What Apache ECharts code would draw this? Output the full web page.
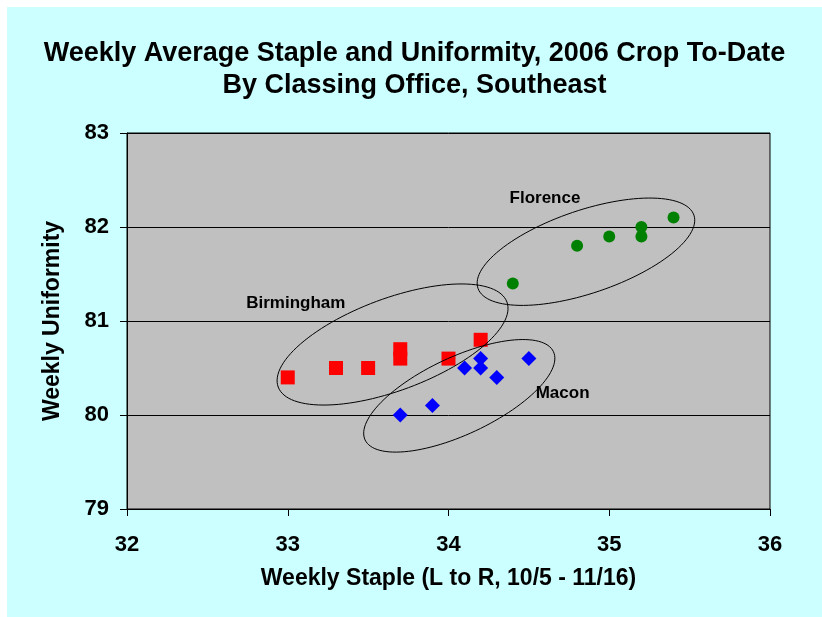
<!DOCTYPE html>
<html>
<head>
<meta charset="utf-8">
<script src="https://cdn.jsdelivr.net/npm/echarts@6/dist/echarts.min.js"></script>
<style>
    html, body { margin: 0; padding: 0; background: #ffffff; }
    #chart { position: absolute; left: 7px; top: 7px; width: 815px; height: 610px; background: #ccffff; }
</style>
</head>
<body>
<div id="chart"></div>
<script>
    // weekly staple (x) and uniformity (y), L to R = 10/5 .. 11/16
    const birminghamStaple = [33.0, 33.3, 33.5, 33.7, 33.7, 34.0, 34.2];
    const birminghamUnif = [80.4, 80.5, 80.5, 80.7, 80.6, 80.6, 80.8];
    const maconStaple = [33.7, 33.9, 34.1, 34.2, 34.2, 34.3, 34.5];
    const maconUnif = [80.0, 80.1, 80.5, 80.6, 80.5, 80.4, 80.6];
    const florenceStaple = [34.4, 34.8, 35.0, 35.2, 35.2, 35.4];
    const florenceUnif = [81.4, 81.8, 81.9, 82.0, 81.9, 82.1];

    // office labels and the ellipse centres drawn round each group
    const officeNames = ['Florence', 'Birmingham', 'Macon'];
    const labelStaple = [34.60, 33.05, 34.71];
    const labelUnif = [82.30, 81.19, 80.23];
    const ringStaple = [34.855, 33.652, 34.067];
    const ringUnif = [81.737, 80.75, 80.204];

    // ring shape in pixels: semi-major, semi-minor, tilt in degrees
    const ringShape = [
        {a: 114, b: 41.5, tilt: 18.7},
        {a: 122, b: 46, tilt: 20.4},
        {a: 104, b: 38.6, tilt: 25.1}
    ];

    const font = 'Liberation Sans, Arial, sans-serif';
    const pairs = (xs, ys) => xs.map((x, i) => [x, ys[i]]);

    const myChart = echarts.init(document.getElementById('chart'));
    const option = {
        backgroundColor: 'transparent',
        animation: false,
        title: {
            text: 'Weekly Average Staple and Uniformity, 2006 Crop To-Date\nBy Classing Office, Southeast',
            left: 'center',
            top: 26,
            textStyle: {
                fontFamily: font,
                fontSize: 27,
                fontWeight: 'bold',
                lineHeight: 32,
                color: '#000'
            }
        },
        grid: {
            left: 120,
            right: 52,
            top: 126,
            bottom: 108,
            show: true,
            backgroundColor: '#c0c0c0',
            borderColor: '#000',
            borderWidth: 1
        },
        xAxis: {
            type: 'value',
            min: 32,
            max: 36,
            interval: 1,
            name: 'Weekly Staple (L to R, 10/5 - 11/16)',
            nameLocation: 'middle',
            nameGap: 58,
            nameTextStyle: {fontFamily: font, fontSize: 23, fontWeight: 'bold', color: '#000'},
            axisLine: {lineStyle: {color: '#000', width: 1}},
            axisTick: {show: true, inside: false, length: 7, lineStyle: {color: '#000'}},
            axisLabel: {margin: 25, fontFamily: font, fontSize: 22, fontWeight: 'bold', color: '#000'},
            splitLine: {show: false}
        },
        yAxis: {
            type: 'value',
            min: 79,
            max: 83,
            interval: 1,
            name: 'Weekly Uniformity',
            nameLocation: 'middle',
            nameGap: 63,
            nameRotate: 90,
            nameTextStyle: {fontFamily: font, fontSize: 23, fontWeight: 'bold', color: '#000'},
            axisLine: {show: true, lineStyle: {color: '#000', width: 1}},
            axisTick: {show: true, inside: false, length: 7, lineStyle: {color: '#000'}},
            axisLabel: {margin: 18, fontFamily: font, fontSize: 22, fontWeight: 'bold', color: '#000'},
            splitLine: {show: true, lineStyle: {color: '#000', width: 1}}
        },
        series: [
            {
                name: 'Birmingham',
                type: 'scatter',
                symbol: 'rect',
                symbolSize: 14,
                itemStyle: {color: '#ff0000', opacity: 1},
                data: pairs(birminghamStaple, birminghamUnif)
            },
            {
                name: 'Macon',
                type: 'scatter',
                symbol: 'diamond',
                symbolSize: 15,
                itemStyle: {color: '#0000ff', opacity: 1},
                data: pairs(maconStaple, maconUnif)
            },
            {
                name: 'Florence',
                type: 'scatter',
                symbol: 'circle',
                symbolSize: 12,
                itemStyle: {color: '#008000', opacity: 1},
                data: pairs(florenceStaple, florenceUnif)
            },
            {
                name: 'rings',
                type: 'custom',
                silent: true,
                clip: false,
                z: 3,
                data: pairs(ringStaple, ringUnif),
                renderItem: function (params, api) {
                    const c = api.coord([api.value(0), api.value(1)]);
                    const s = ringShape[params.dataIndex];
                    const th = s.tilt * Math.PI / 180;
                    const pts = [];
                    for (let i = 0; i < 120; i++) {
                        const t = i / 120 * Math.PI * 2;
                        const u = s.a * Math.cos(t), v = s.b * Math.sin(t);
                        pts.push([c[0] + u * Math.cos(th) + v * Math.sin(th),
                                  c[1] - u * Math.sin(th) + v * Math.cos(th)]);
                    }
                    return {
                        type: 'polygon',
                        shape: {points: pts},
                        style: {fill: 'none', stroke: '#000', lineWidth: 1}
                    };
                }
            },
            {
                name: 'labels',
                type: 'scatter',
                symbolSize: 0,
                silent: true,
                itemStyle: {opacity: 1},
                data: labelStaple.map((x, i) => ({value: [x, labelUnif[i]], name: officeNames[i]})),
                label: {
                    show: true,
                    position: 'inside',
                    formatter: '{b}',
                    fontFamily: font,
                    fontSize: 17,
                    fontWeight: 'bold',
                    color: '#000',
                    opacity: 1
                }
            }
        ]
    };
    myChart.setOption(option);
</script>
</body>
</html>
